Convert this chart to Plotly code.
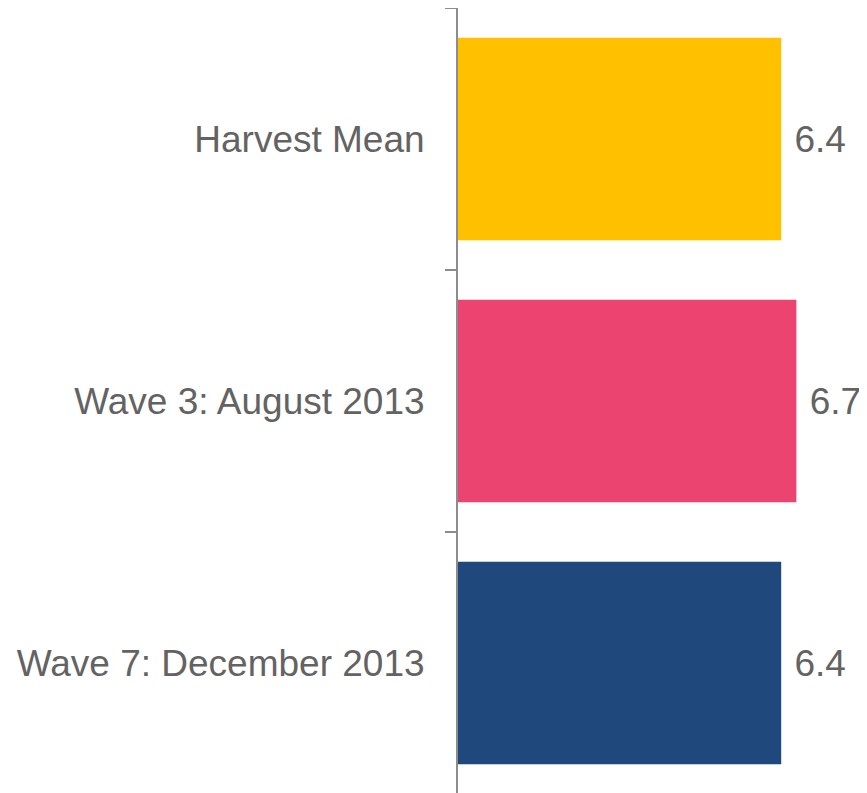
import plotly.graph_objects as go

categories = ["Harvest Mean", "Wave 3: August 2013", "Wave 7: December 2013"]
values = [6.4, 6.7, 6.4]
colors = ["#FFC000", "#EC4470", "#1F497C"]

FONT = "Liberation Sans, Arial, sans-serif"
TEXT_COLOR = "#636363"

fig = go.Figure()
fig.add_trace(go.Bar(
    y=categories,
    x=values,
    orientation="h",
    marker=dict(color=colors, line=dict(width=0)),
    text=[f"{v:.1f}" for v in values],
    texttemplate=" %{text}",
    textposition="outside",
    constraintext="none",
    cliponaxis=False,
    textfont=dict(family=FONT, size=37, color=TEXT_COLOR),
    hoverinfo="skip",
))

fig.update_layout(
    width=859,
    height=793,
    margin=dict(l=450, r=5, t=0, b=7),
    paper_bgcolor="white",
    plot_bgcolor="white",
    bargap=0.228,
    showlegend=False,
    font=dict(family=FONT, size=37, color=TEXT_COLOR),
)
fig.update_xaxes(range=[0, 8], visible=False, showgrid=False, zeroline=False)
fig.update_yaxes(
    type="category",
    categoryorder="array",
    categoryarray=categories[::-1],
    showline=True,
    linecolor="#8C8C8C",
    linewidth=2,
    ticks="outside",
    tickson="boundaries",
    ticklen=11,
    tickwidth=2,
    tickcolor="#8C8C8C",
    ticklabelstandoff=24,
    showgrid=False,
    zeroline=False,
    automargin=False,
    tickfont=dict(family=FONT, size=37, color=TEXT_COLOR),
)

fig.write_html("out.html")
